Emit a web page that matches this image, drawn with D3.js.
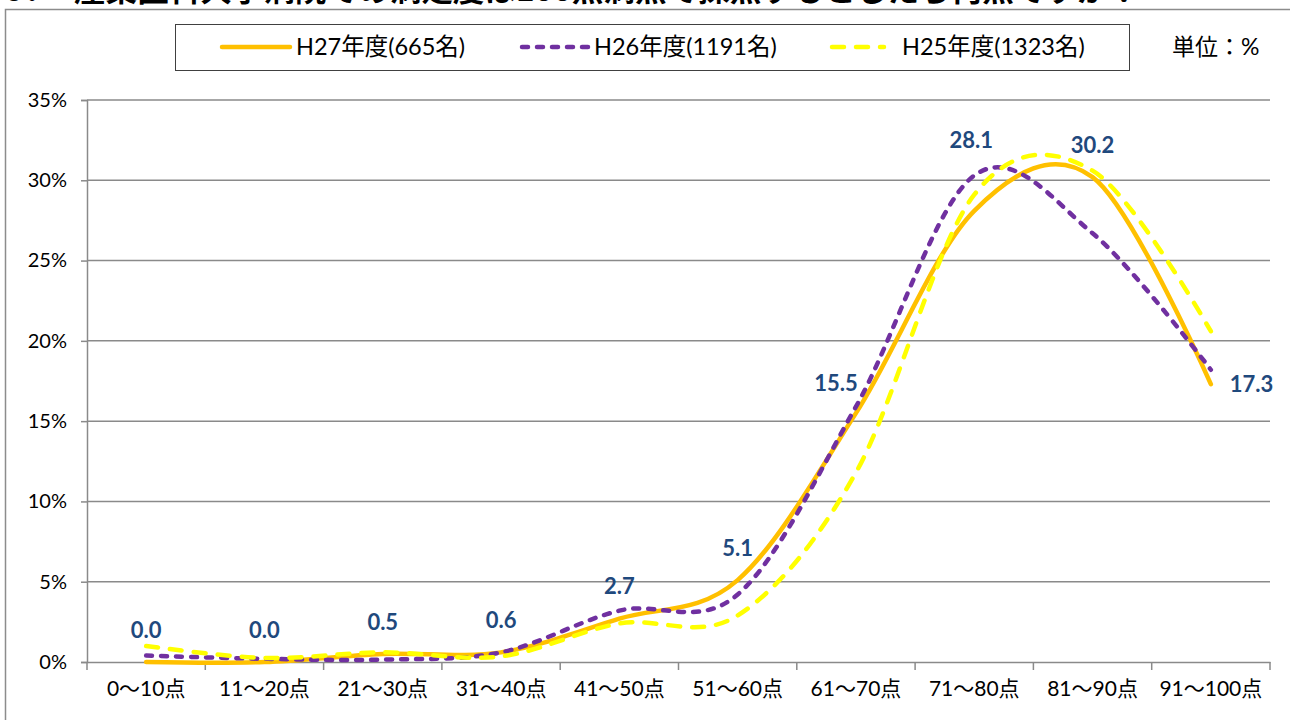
<!DOCTYPE html>
<html><head><meta charset="utf-8">
<script src="https://cdn.jsdelivr.net/npm/d3@7"></script>
<style>html,body{margin:0;padding:0;background:#fff;}svg{display:block;}</style>
</head><body>
<svg id="c" width="1290" height="720"></svg>
<script>
const categories = ["0〜10点","11〜20点","21〜30点","31〜40点","41〜50点","51〜60点","61〜70点","71〜80点","81〜90点","91〜100点"];
const seriesNames = ["H27年度(665名)","H26年度(1191名)","H25年度(1323名)"];
const h27 = [0.0, 0.0, 0.5, 0.6, 2.7, 5.1, 15.5, 28.1, 30.2, 17.3];
const h26 = [0.4, 0.2, 0.15, 0.6, 3.2, 4.2, 15.9, 30.3, 26.7, 18.2];
const h25 = [1.0, 0.25, 0.6, 0.35, 2.4, 2.9, 11.8, 29.1, 30.6, 20.6];
const yTicks = [0, 5, 10, 15, 20, 25, 30, 35];
const titleText = "産業医科大学病院での満足度は100点満点で採点するとしたら何点ですか？";
const unitText = "単位：%";

const svg = d3.select("#c");
const numFont = "Lato, 'Noto Sans CJK JP', sans-serif";
const L = 87, R = 1270, T = 100, B = 662;

// title (cut off at top, as in the source image)
svg.append("text").attr("x", 6).attr("y", 1).attr("font-family","'Noto Sans CJK JP'")
  .attr("font-weight","bold").attr("font-size",30).attr("fill","#000").text("5．");
svg.append("text").attr("x", 74).attr("y", 1).attr("font-family","'Noto Sans CJK JP'")
  .attr("font-weight","bold").attr("font-size",30).attr("fill","#000")
  .attr("textLength",1066).attr("lengthAdjust","spacingAndGlyphs").text(titleText);

// chart border
svg.append("rect").attr("x",5.5).attr("y",9.5).attr("width",1300).attr("height",800)
  .attr("fill","none").attr("stroke","#8c8c8c").attr("stroke-width",1.5);

const x = d3.scaleBand().domain(categories).range([L, R]).padding(0);
const cx = c => x(c) + x.bandwidth()/2;
const y = d3.scaleLinear().domain([0, 35]).range([B, T]);

// gridlines
svg.append("g").selectAll("line").data(yTicks.filter(d=>d>0)).join("line")
  .attr("x1", L).attr("x2", R).attr("y1", d=>y(d)).attr("y2", d=>y(d))
  .attr("stroke","#8a8a8a").attr("stroke-width",1.5);

// y axis
const yAxis = d3.axisLeft(y).tickValues(yTicks).tickSize(6).tickPadding(14).tickFormat(d => d + "%");
const gy = svg.append("g").attr("transform",`translate(${L},0)`).call(yAxis);
gy.select(".domain").attr("stroke","#8a8a8a").attr("stroke-width",1.5);
gy.selectAll(".tick line").attr("stroke","#8a8a8a").attr("stroke-width",1.5);
gy.selectAll(".tick text").attr("font-family",numFont).attr("font-size",20).attr("fill","#000");

// x axis
const xAxis = d3.axisBottom(x).tickSize(0).tickPadding(19);
const gx = svg.append("g").attr("transform",`translate(0,${B})`).call(xAxis);
gx.select(".domain").attr("stroke","#8a8a8a").attr("stroke-width",1.5);
gx.selectAll(".tick text").attr("font-family",numFont).attr("font-size",21).attr("fill","#000");
gx.append("g").selectAll("line").data(d3.range(categories.length+1)).join("line")
  .attr("x1", i => L + i*x.bandwidth()).attr("x2", i => L + i*x.bandwidth())
  .attr("y1",0).attr("y2",8).attr("stroke","#8a8a8a").attr("stroke-width",1.5);

// series
const styles = [
  {data:h27, color:"#FFC000", dash:null, w:4.5},
  {data:h26, color:"#7030A0", dash:"6,9", w:4.5},
  {data:h25, color:"#FFFF00", dash:"12,12", w:4.5}
];
const line = d3.line().x((d,i)=>cx(categories[i])).y(d=>y(d)).curve(d3.curveCardinal.tension(0));
styles.forEach(s => {
  svg.append("path").datum(s.data).attr("d", line).attr("fill","none")
    .attr("stroke", s.color).attr("stroke-width", s.w).attr("stroke-linecap","round")
    .attr("stroke-linejoin","round").attr("stroke-dasharray", s.dash);
});

// data labels for H27
const lbl = svg.append("g");
h27.forEach((v,i) => {
  let lx = cx(categories[i]), ly = y(v) - 32, anchor = "middle";
  if (i === 6) { lx -= 20; ly = y(v) - 30; }
  if (i === 7) { lx -= 3; ly = y(v) - 70; }
  if (i === 9) { lx += 19; ly = y(v); anchor = "start"; }
  lbl.append("text").attr("x", lx).attr("y", ly).attr("dy","0.35em").attr("text-anchor", anchor)
    .attr("font-family", numFont).attr("font-weight","bold").attr("font-size",22)
    .attr("fill","#1F497D").text(v.toFixed(1));
});

// legend
const lg = svg.append("g");
lg.append("rect").attr("x",175.5).attr("y",24.5).attr("width",954).attr("height",46)
  .attr("fill","#fff").attr("stroke","#404040").attr("stroke-width",1);
const legItems = [
  {x1:222, x2:290, tx:296},
  {x1:522, x2:590, tx:594},
  {x1:832, x2:884, tx:902}
];
legItems.forEach((it, i) => {
  const s = styles[i];
  lg.append("line").attr("x1",it.x1).attr("x2",it.x2).attr("y1",47).attr("y2",47)
    .attr("stroke",s.color).attr("stroke-width",s.w).attr("stroke-linecap","round")
    .attr("stroke-dasharray", s.dash);
  lg.append("text").attr("x",it.tx).attr("y",47).attr("dy","0.35em")
    .attr("font-family",numFont).attr("font-size",23.5).attr("fill","#000").text(seriesNames[i]);
});
svg.append("text").attr("x",1172).attr("y",47).attr("dy","0.35em")
  .attr("font-family",numFont).attr("font-size",23).attr("fill","#000").text(unitText);
</script>
</body></html>
